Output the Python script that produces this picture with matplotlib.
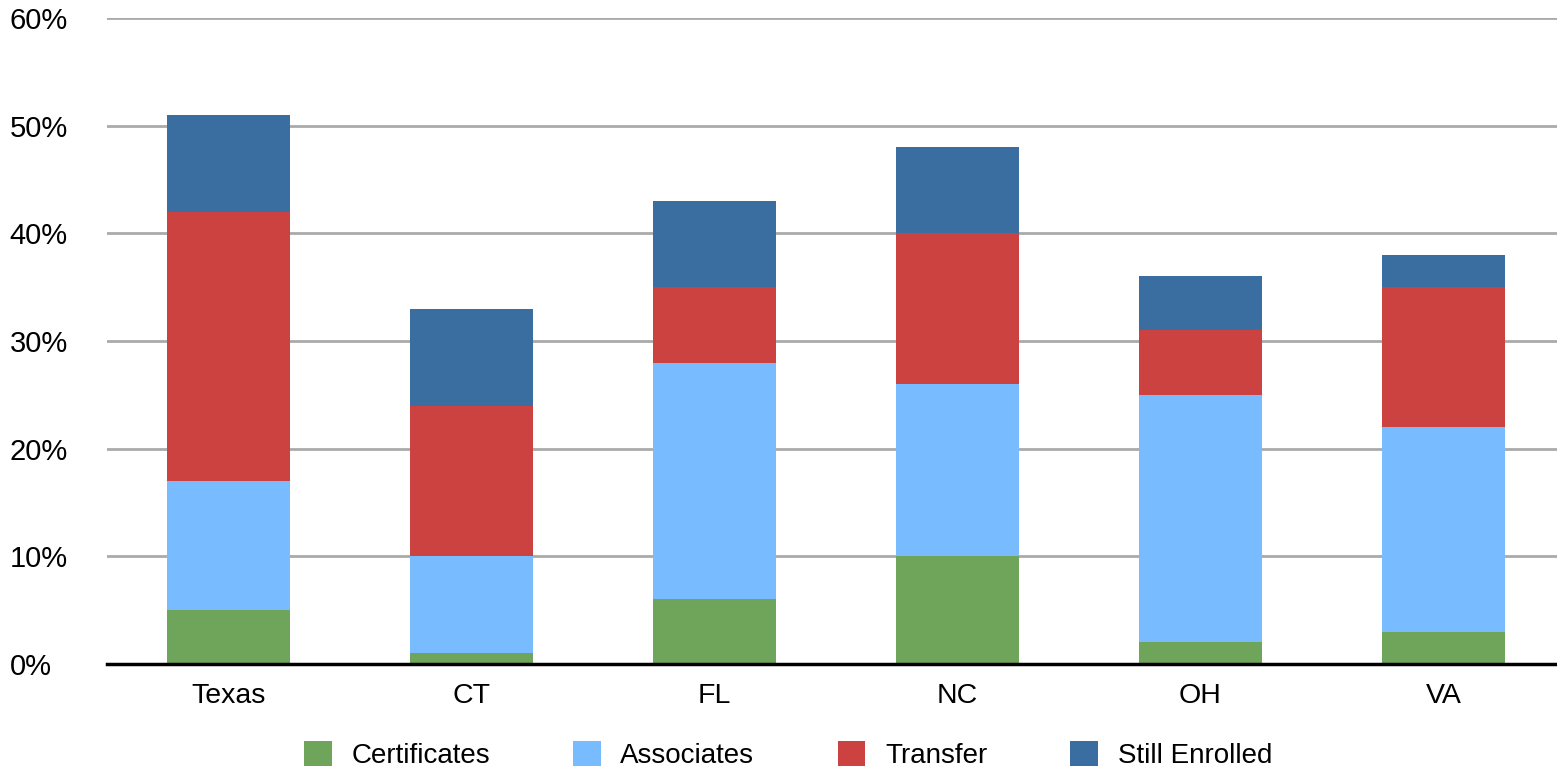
import matplotlib
matplotlib.use("Agg")
from matplotlib import pyplot as plt
import numpy as np

plt.rcParams['font.family'] = ['Liberation Sans', 'DejaVu Sans']

states = ["Texas", "CT", "FL", "NC", "OH", "VA"]
certificates = [5, 1, 6, 10, 2, 3]
associates = [12, 9, 22, 16, 23, 19]
transfer = [25, 14, 7, 14, 6, 13]
still_enrolled = [9, 9, 8, 8, 5, 3]

series = [
    ("Certificates", certificates, "#6ea55a"),
    ("Associates", associates, "#78bcff"),
    ("Transfer", transfer, "#cc4240"),
    ("Still Enrolled", still_enrolled, "#3a6ea0"),
]


def main():
    W, H = 1557, 769
    fig = plt.figure(figsize=(W / 100, H / 100), dpi=100)
    ax = fig.add_axes([107 / W, 105 / H, 1458 / W, 646 / H])

    x = np.arange(len(states))
    bottom = np.zeros(len(states))
    for name, vals, color in series:
        ax.bar(x, vals, width=0.506, bottom=bottom, color=color, label=name,
               zorder=3)
        bottom += np.array(vals)

    ax.set_xlim(-0.5, len(states) - 0.5)
    ax.set_ylim(0, 60)
    ax.set_yticks(range(0, 61, 10))
    ax.set_yticklabels([f"{v}%" for v in range(0, 61, 10)], fontsize=21)
    ax.set_xticks(x)
    ax.set_xticklabels(states, fontsize=20.5)
    ax.yaxis.grid(True, color="#aaaaaa", linewidth=2)
    ax.tick_params(axis="both", length=0)
    ax.tick_params(axis="x", pad=14)
    ax.tick_params(axis="y", pad=70)
    for t in ax.get_yticklabels():
        t.set_horizontalalignment("left")
    for side in ("left", "right", "top"):
        ax.spines[side].set_visible(False)
    ax.spines["bottom"].set_linewidth(2.5)
    ax.spines["bottom"].set_zorder(4)

    fig.legend(loc="center", bbox_to_anchor=(788 / W, 1 - 755 / H),
               ncol=4, frameon=False, fontsize=20, handlelength=1.0,
               handleheight=1.0, handletextpad=0.7, columnspacing=3.0,
               borderaxespad=0, borderpad=0)

    fig.savefig("out.png", dpi=100)


if __name__ == "__main__":
    main()
